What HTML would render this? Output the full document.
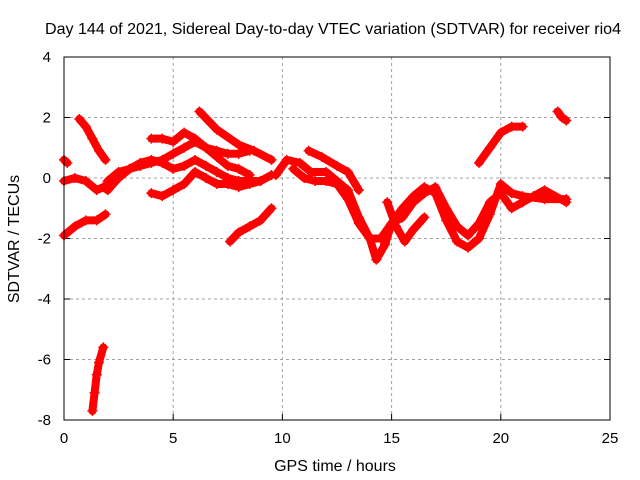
<!DOCTYPE html>
<html><head><meta charset="utf-8"><style>
body{margin:0;background:#fff;}
svg{display:block;font-family:"Liberation Sans",sans-serif;}
</style></head><body>
<svg id="chart" width="640" height="480" viewBox="0 0 640 480">
<text x="333" y="34" font-size="16" text-anchor="middle" textLength="576" lengthAdjust="spacingAndGlyphs">Day 144 of 2021, Sidereal Day-to-day VTEC variation (SDTVAR) for receiver rio4</text>
<text x="335" y="471" font-size="16" text-anchor="middle">GPS time / hours</text>
<text transform="translate(19,239) rotate(-90)" font-size="16" text-anchor="middle">SDTVAR / TECUs</text>
<g id="grid"></g><g id="ticks"></g><g id="marks"></g>
<rect x="64" y="57" width="546" height="363" fill="none" stroke="#000" stroke-width="1"/>
</svg>
<script>
const xTicks=[0,5,10,15,20,25];
const yTicks=[4,2,0,-2,-4,-6,-8];
const trackA=[[0,0.6],[0.15,0.5]];
const trackB=[[0,-0.1],[0.5,0.0],[1,-0.1],[1.5,-0.4],[1.8,-0.3],[2.0,-0.4]];
const trackC=[[0,-1.9],[0.5,-1.6],[1,-1.4],[1.5,-1.4],[1.9,-1.2]];
const trackD=[[0.7,1.95],[1.0,1.7],[1.3,1.3],[1.6,0.9],[1.9,0.6]];
const trackE=[[1.3,-7.7],[1.4,-7.1],[1.5,-6.5],[1.6,-6.1],[1.8,-5.6]];
const trackF=[[2.0,-0.1],[2.5,0.2],[3,0.3],[3.5,0.4],[4,0.5],[4.5,0.6],[5,0.8],[5.5,1.0],[6,1.2],[6.5,1.0],[7,0.9],[7.5,0.8],[8,0.8],[8.5,0.9]];
const trackG=[[2.0,-0.4],[2.5,0.0],[3,0.3],[3.5,0.5],[4,0.6],[4.5,0.5],[5,0.3],[5.5,0.4],[6,0.6],[6.5,0.4],[7,0.2],[7.5,0.0],[8,-0.1],[8.5,-0.1],[9,-0.1],[9.5,0.1]];
const trackH=[[4.0,1.3],[4.5,1.3],[5.0,1.2],[5.5,1.5],[6,1.3],[6.5,1.0],[7,0.7],[7.5,0.4],[8,0.3],[8.5,0.1]];
const trackI=[[6.2,2.2],[7,1.6],[8,1.1],[8.7,0.9],[9.5,0.6]];
const trackJ=[[4.0,-0.5],[4.5,-0.6],[5.0,-0.4],[5.5,-0.2],[6.0,0.2],[6.5,0.0],[7,-0.2],[7.5,-0.2],[8,-0.3],[8.5,-0.2],[9,-0.1]];
const trackK=[[7.6,-2.1],[8,-1.8],[8.5,-1.6],[9,-1.4],[9.5,-1.0]];
const trackM=[[9.7,0.1],[10.2,0.6],[10.8,0.5],[11.3,0.2],[12,0.2],[12.5,-0.1],[13,-0.4],[13.5,-1.3],[14,-2.0],[14.3,-2.7],[14.7,-2.2],[15,-1.5],[15.5,-1.0],[16,-0.6],[16.5,-0.3],[17,-0.5],[17.5,-1.4],[18,-2.1],[18.5,-2.3],[19,-2.0],[19.5,-1.2],[20,-0.2],[20.5,-0.5],[21,-0.6],[22,-0.7],[23,-0.7]];
const trackN=[[10.5,0.3],[11,0.0],[11.5,-0.1],[12,-0.1],[12.5,-0.2],[13,-0.7],[13.5,-1.5],[14,-2.0],[14.5,-2.0],[15,-1.5],[15.5,-1.3],[16,-0.8],[16.5,-0.5],[17,-0.3],[17.5,-1.0],[18,-1.6],[18.5,-1.9],[19,-1.5],[19.5,-0.8],[20,-0.5],[20.5,-1.0],[21,-0.8],[21.5,-0.6],[22,-0.4],[23,-0.8]];
const trackO=[[11.2,0.9],[11.8,0.7],[12.5,0.4],[13,0.2],[13.5,-0.4]];
const trackP=[[14.8,-0.8],[15.2,-1.6],[15.6,-2.1],[16,-1.7],[16.5,-1.3]];
const trackQ=[[19,0.5],[19.5,1.0],[20,1.5],[20.5,1.7],[21,1.7]];
const trackR=[[22.6,2.2],[22.8,2.0],[23,1.9]];
const tracks=[trackA,trackB,trackC,trackD,trackE,trackF,trackG,trackH,trackI,trackJ,trackK,trackM,trackN,trackO,trackP,trackQ,trackR];

const NS="http://www.w3.org/2000/svg";
const X=v=>64+v*(546/25);
const Y=v=>178-v*30.25;
function mk(tag,attrs,parent){const e=document.createElementNS(NS,tag);for(const k in attrs)e.setAttribute(k,attrs[k]);parent.appendChild(e);return e;}
const grid=document.getElementById('grid'),ticks=document.getElementById('ticks'),marks=document.getElementById('marks');
xTicks.forEach(t=>{
  if(t>0&&t<25){const g=mk('line',{x1:X(t),x2:X(t),y1:57,y2:420,stroke:'#a0a0a0','stroke-dasharray':'3,3'},grid);
  
  }
  mk('line',{x1:X(t),x2:X(t),y1:420,y2:414,stroke:'#000'},ticks);
  const l=mk('text',{x:X(t),y:443,'font-size':15,'text-anchor':'middle'},ticks);
  l.textContent=t;
  
  
});
yTicks.forEach(t=>{
  if(t<4&&t>-8){const g=mk('line',{x1:64,x2:610,y1:Y(t),y2:Y(t),stroke:'#a0a0a0','stroke-dasharray':'3,3'},grid);
  
  }
  mk('line',{x1:64,x2:70,y1:Y(t),y2:Y(t),stroke:'#000'},ticks);
  mk('line',{x1:604,x2:610,y1:Y(t),y2:Y(t),stroke:'#000'},ticks);
  const l=mk('text',{x:51,y:Y(t)+5,'font-size':15,'text-anchor':'end'},ticks);
  l.textContent=t;
  
  
});
tracks.forEach(tr=>{
  const pl=mk('polyline',{points:tr.map(p=>X(p[0])+','+Y(p[1])).join(' '),fill:'none',stroke:'#f00','stroke-width':8,'stroke-linejoin':'round','stroke-linecap':'round'},marks);
  
  
  tr.forEach(p=>{
    const m=mk('path',{d:`M${X(p[0])-5},${Y(p[1])}h10M${X(p[0])},${Y(p[1])-5}v10`,stroke:'#f00','stroke-width':1.5},marks);
    
    
  });
});
</script>
</body></html>
